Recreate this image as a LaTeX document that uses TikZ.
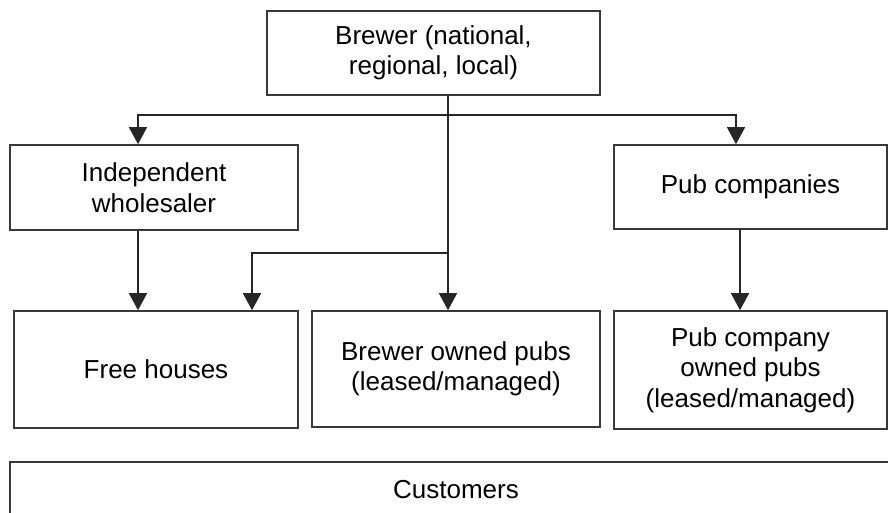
\documentclass[tikz,border=0pt]{standalone}
\usepackage{fontspec}
\setmainfont{Liberation Sans}
\usetikzlibrary{arrows.meta,calc}
\begin{document}
\begin{tikzpicture}[x=1pt,y=-1pt,
  box/.style={draw=black!78, line width=1.6pt, rectangle, align=center, inner sep=0pt,
    font=\fontsize{26}{30.5}\selectfont},
  arr/.style={draw=black!85, line width=1.5pt, -{Triangle[width=18pt,length=17pt]}},
  conn/.style={draw=black!85, line width=1.5pt}]
\useasboundingbox (0,0) rectangle (888,513);
\fill[white] (0,0) rectangle (888,513);
\node[box, minimum width=333pt, minimum height=84pt] (brewer) at (433.5,53) {Brewer (national,\\regional, local)};
\node[box, minimum width=288pt, minimum height=85pt] (wholesaler) at (154,187.5) {Independent\\wholesaler};
\node[box, minimum width=273pt, minimum height=84pt] (pubco) at (750.5,187) {Pub companies};
\node[box, minimum width=284pt, minimum height=117pt] (freehouses) at (156,369.5) {Free houses};
\node[box, minimum width=288pt, minimum height=116pt] (brewerpubs) at (456,369) {Brewer owned pubs\\(leased/managed)};
\node[box, minimum width=273pt, minimum height=118pt] (pubcopubs) at (750.5,370) {Pub company\\owned pubs\\(leased/managed)};
\begin{scope}
\clip (0,0) rectangle (888,513);
\node[box, minimum width=892pt, minimum height=56pt] (customers) at (456,490) {Customers};
\end{scope}
\coordinate (t1) at ([xshift=14.5pt]brewer.south);
\coordinate (j) at ([yshift=-19pt]t1);
\coordinate (k) at ([yshift=-157pt]t1);
\draw[arr] (t1) -- (t1 |- brewerpubs.north);
\draw[arr] (j) -| ([xshift=-16pt]wholesaler.north);
\draw[arr] (j) -| ([xshift=-14.5pt]pubco.north);
\draw[arr] ([xshift=-16pt]wholesaler.south) -- ([xshift=-16pt]wholesaler.south |- freehouses.north);
\draw[arr] (k) -| ([xshift=96pt]freehouses.north);
\draw[arr] ([xshift=-10.5pt]pubco.south) -- ([xshift=-10.5pt]pubco.south |- pubcopubs.north);
\end{tikzpicture}
\end{document}
